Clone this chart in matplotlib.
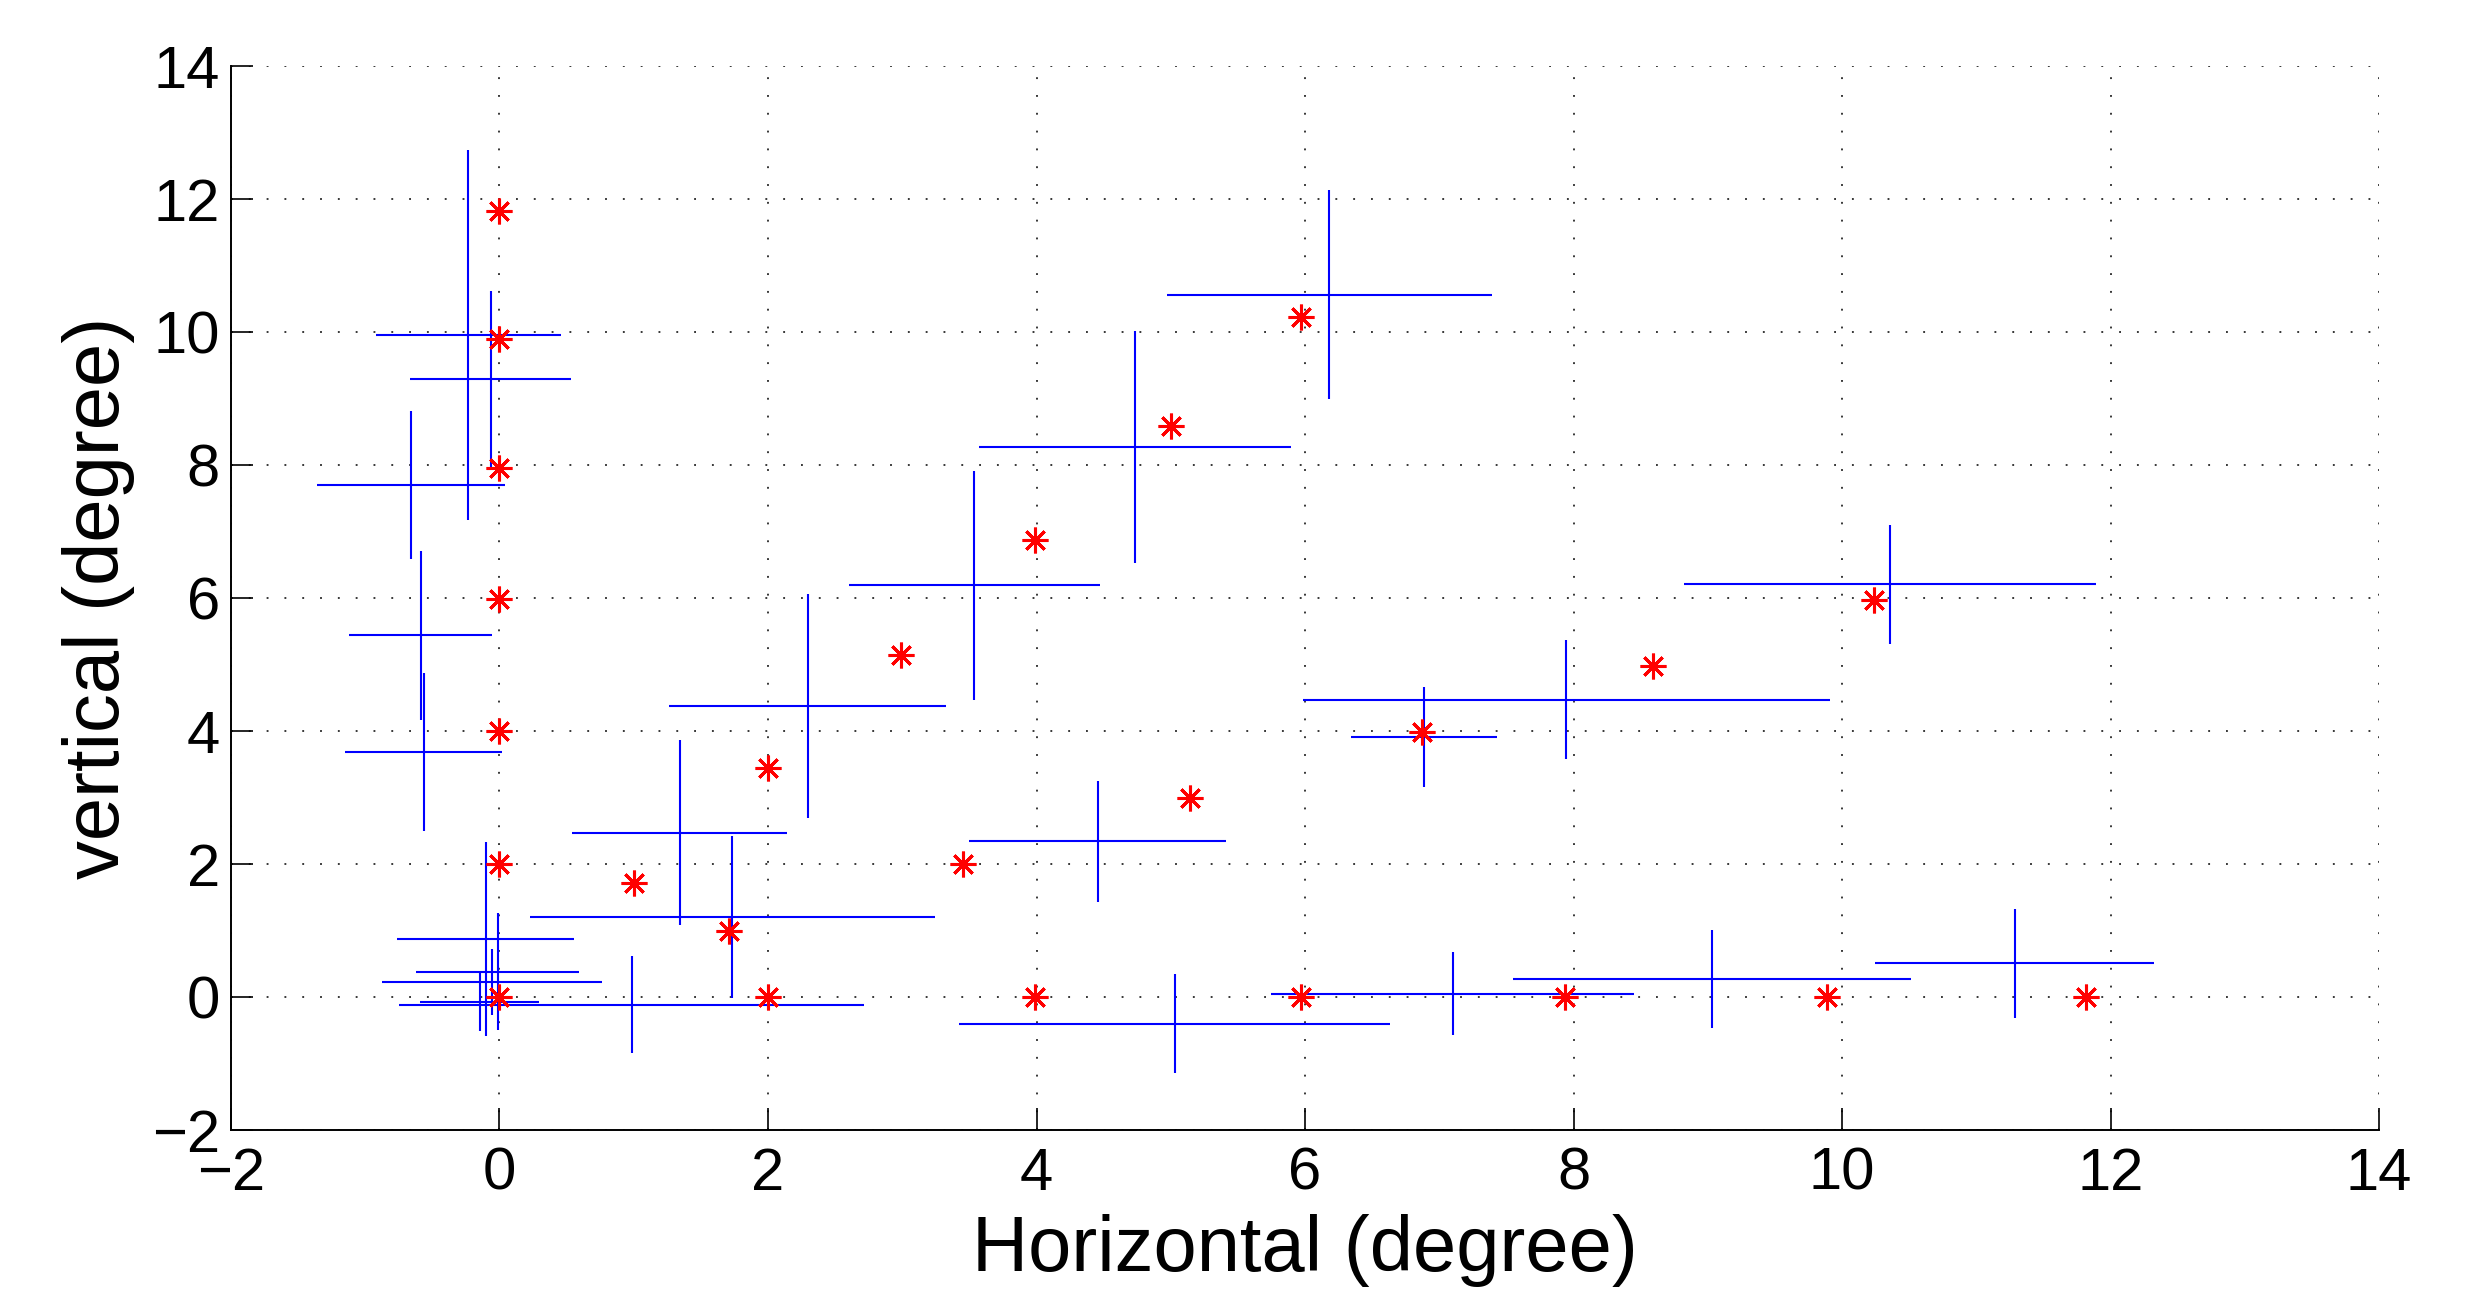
import matplotlib
matplotlib.use("Agg")
import matplotlib.pyplot as plt

plt.rcParams['font.family'] = ['Liberation Sans', 'DejaVu Sans']

# target positions (red asterisks)
target_x = [0, 0, 0, 0, 0, 0, 0,
            2.0, 3.99, 5.97, 7.94, 9.89, 11.82,
            1.0, 2.0, 2.99, 3.99, 5.0, 5.97,
            1.71, 3.45, 5.14, 6.87, 8.59, 10.24]
target_y = [0, 2.0, 4.0, 5.98, 7.95, 9.9, 11.82,
            0, 0, 0, 0, 0, 0,
            1.71, 3.45, 5.14, 6.87, 8.58, 10.23,
            1.0, 2.0, 3.0, 3.99, 4.98, 5.97]

# measured mean and spread (blue crosses)
mean_x = [-0.231, -0.065, -0.656, -0.588, -0.563, -0.103, -0.013, -0.058,
          -0.147, 0.984, 1.342, 1.734, 2.295, 3.538, 4.455, 5.03,
          6.182, 4.736, 7.947, 6.886, 10.355, 7.10, 9.03, 11.285]
mean_y = [9.96, 9.29, 7.70, 5.44, 3.69, 0.868, 0.38, 0.226,
          -0.07, -0.117, 2.47, 1.205, 4.37, 6.19, 2.34, -0.40,
          10.56, 8.27, 4.47, 3.91, 6.21, 0.053, 0.27, 0.506]
sd_x = [0.686, 0.60, 0.70, 0.535, 0.585, 0.657, 0.605, 0.82,
        0.445, 1.73, 0.80, 1.507, 1.03, 0.933, 0.96, 1.606,
        1.212, 1.161, 1.96, 0.545, 1.535, 1.354, 1.48, 1.04]
sd_y = [2.78, 1.32, 1.11, 1.27, 1.19, 1.46, 0.88, 0.50,
        0.44, 0.73, 1.39, 1.215, 1.685, 1.72, 0.915, 0.745,
        1.57, 1.74, 0.895, 0.745, 0.895, 0.62, 0.74, 0.815]

xticks = [-2, 0, 2, 4, 6, 8, 10, 12, 14]
yticks = [-2, 0, 2, 4, 6, 8, 10, 12, 14]

fig = plt.figure(figsize=(24.7, 12.9), dpi=100)
ax = fig.add_axes([0.0935, 0.124, 0.8697, 0.8248])

ax.errorbar(mean_x, mean_y, xerr=sd_x, yerr=sd_y, fmt='none',
            ecolor='#0000ff', elinewidth=1.5, capsize=0, zorder=3)
ax.plot(target_x, target_y, ls='none', marker=(8, 2, 0), ms=18.5,
        mec='#ff0000', mew=2.2, zorder=4)

ax.set_xlim(-2, 14)
ax.set_ylim(-2, 14)
ax.set_xticks(xticks)
ax.set_yticks(yticks)

ax.grid(True, color='#303030', linestyle=(0, (1, 8.5)), linewidth=1.35)
ax.set_axisbelow(True)

ax.spines['top'].set_visible(False)
ax.spines['right'].set_visible(False)
ax.spines['left'].set_linewidth(1.4)
ax.spines['bottom'].set_linewidth(1.4)
ax.tick_params(direction='in', length=15.5, width=1.2, labelsize=43)
ax.tick_params(axis='x', pad=12)
ax.tick_params(axis='y', pad=8)

ax.set_xlabel('Horizontal (degree)', fontsize=56, labelpad=9)
ax.set_ylabel('vertical (degree)', fontsize=56, labelpad=12)

fig.savefig('out.png', dpi=100, facecolor='white')
